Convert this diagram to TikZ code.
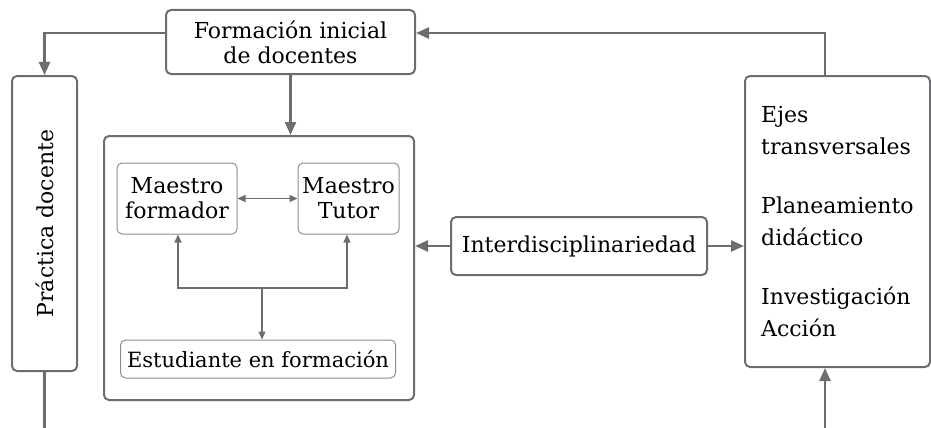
\documentclass[tikz,border=0pt]{standalone}
\usepackage{fontspec}
\setmainfont{DejaVu Serif}
\usetikzlibrary{positioning,calc,arrows.meta}
\definecolor{framegray}{RGB}{108,109,113}
\definecolor{innergray}{RGB}{140,141,145}

\begin{document}
\begin{tikzpicture}[x=1pt, y=-1pt,
    font=\fontsize{22}{25}\selectfont,
    mainbox/.style={rectangle, rounded corners=5pt, draw=framegray, line width=2pt, inner sep=0pt, align=center},
    subbox/.style={rectangle, rounded corners=5pt, draw=innergray, line width=1pt, inner sep=0pt, align=center},
    flow/.style={-{Triangle[length=13pt,width=11pt]}, draw=framegray, line width=2.4pt},
    link/.style={draw=framegray, line width=2.4pt},
    innerflow/.style={-{Triangle[length=8pt,width=7pt]}, draw=framegray, line width=1.2pt}
]
    \useasboundingbox (0,0) rectangle (931,428);

    % Formacion inicial
    \node[mainbox, minimum width=249pt, minimum height=64pt] (fid) at (290.5,42) {Formación inicial\\de docentes};

    % Practica docente
    \node[mainbox, minimum width=65pt, minimum height=295pt] (pd) at (44.5,223.5) {\rotatebox{90}{Práctica docente}};

    % Nucleo con los actores
    \node[mainbox, minimum width=310pt, minimum height=264pt] (nucleo) at (259,268) {};
    \node[subbox, minimum width=120pt, minimum height=71pt] (mf) at (177,198.5) {Maestro\\formador};
    \node[subbox, minimum width=101pt, minimum height=71pt] (mt) at (348.5,198.5) {Maestro\\Tutor};
    \node[subbox, minimum width=275pt, minimum height=38pt, font=\fontsize{21}{24}\selectfont] (ef) at (258,359) {Estudiante en formación};

    % Interdisciplinariedad
    \node[mainbox, minimum width=256pt, minimum height=58pt] (inter) at (579,246) {Interdisciplinariedad};

    % Ejes
    \node[mainbox, minimum width=185pt, minimum height=291pt] (ejes) at (837.5,221.5) {};
    \node[font=\fontsize{22}{32}\selectfont, align=left, anchor=west, inner sep=0pt] (ejestxt) at ([xshift=17pt]ejes.west)
        {Ejes\\transversales\\[27pt]Planeamiento\\didáctico\\[27pt]Investigación\\Acción};

    % Arrows
    \coordinate (pbase) at (44.5,428);
    \coordinate (ebase) at (825,428);
    \coordinate (cruce) at (262,288);
    \draw[flow] ([yshift=9pt]fid.west) -| (pd.north);
    \draw[flow] (fid.south) -- (fid.south |- nucleo.north);
    \draw[flow] ([xshift=-12.5pt]ejes.north) |- ([yshift=9pt]fid.east);
    \draw[link] (pd.south) -- (pbase);
    \draw[flow] (ebase) -- (ebase |- ejes.south);
    \draw[flow] (inter.west) -- (inter.west -| nucleo.east);
    \draw[flow] (inter.east) -- (inter.east -| ejes.west);
    \draw[innerflow, {Triangle[length=8pt,width=7pt]}-{Triangle[length=8pt,width=7pt]}] (mf.east) -- (mt.west);
    \draw[innerflow] (cruce) -| ([xshift=1pt]mf.south);
    \draw[innerflow] (cruce) -| ([xshift=-1.5pt]mt.south);
    \draw[innerflow] (cruce) -- (cruce |- ef.north);

\end{tikzpicture}
\end{document}
